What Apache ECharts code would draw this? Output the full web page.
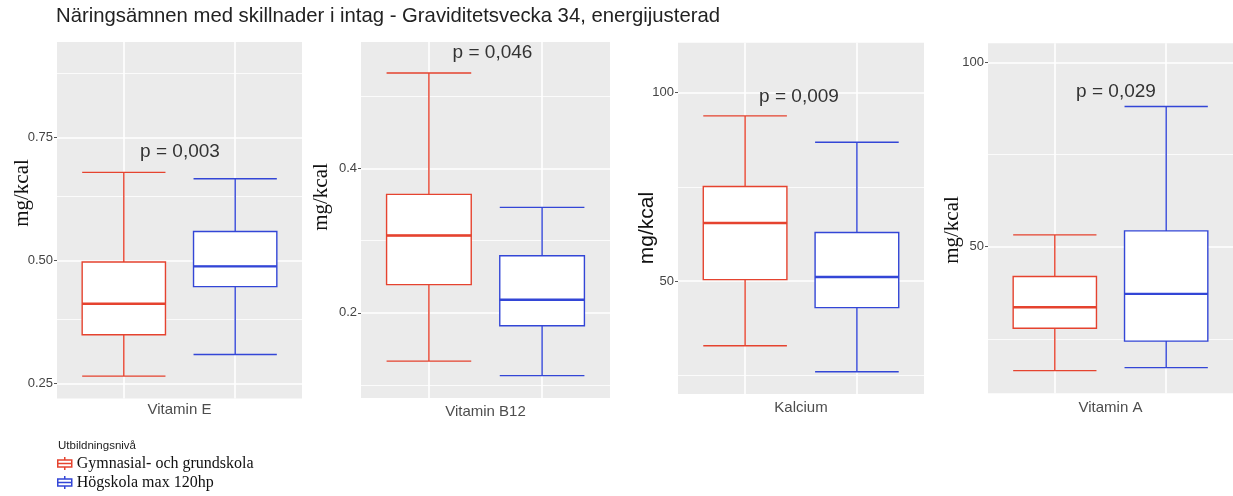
<!DOCTYPE html>
<html>
<head>
<meta charset="utf-8">
<script src="https://cdn.jsdelivr.net/npm/echarts@6/dist/echarts.min.js"></script>
<style>
html,body{margin:0;padding:0;background:#fff;}
#chart{width:1233px;height:496px;}
</style>
</head>
<body>
<div id="chart"></div>
<script>
// ---- data ----
const chartTitle = 'Näringsämnen med skillnader i intag - Graviditetsvecka 34, energijusterad';
const legendTitle = 'Utbildningsnivå';
const groups = ['Gymnasial- och grundskola', 'Högskola max 120hp'];
const nutrients = ['Vitamin E', 'Vitamin B12', 'Kalcium', 'Vitamin A'];
const pLabels = ['p = 0,003', 'p = 0,046', 'p = 0,009', 'p = 0,029'];
const yUnit = 'mg/kcal';
// [min, Q1, median, Q3, max]
const gymnasialStats = [
  [0.265, 0.349, 0.412, 0.497, 0.679],
  [0.133, 0.239, 0.307, 0.364, 0.532],
  [32.9, 50.4, 65.4, 75.1, 93.8],
  [16.4, 27.9, 33.6, 41.9, 53.2]
];
const hogskolaStats = [
  [0.309, 0.447, 0.488, 0.559, 0.666],
  [0.113, 0.182, 0.218, 0.279, 0.346],
  [26.0, 43.0, 51.1, 62.9, 86.8],
  [17.2, 24.4, 37.2, 54.3, 88.0]
];
const groupPositions = [1, 2];
const majorTicks = [[0.25, 0.5, 0.75], [0.2, 0.4], [50, 100], [50, 100]];
const minorTicks = [[0.375, 0.625, 0.875], [0.1, 0.3, 0.5], [25, 75], [25, 75]];
const tickDecimals = [2, 1, 0, 0];
const yRanges = [[0.2196, 0.944], [0.082, 0.575], [20.1, 113.2], [10.25, 105.15]];
const xRange = [0.4, 2.6];

// ---- layout / style ----
const colors = ['#e5432f', '#3346d6'];
const boxUnits = 0.75;
const panels = [
  {left: 57, top: 42, width: 245, height: 356.5, nameGap: 11.5, unitX: 22, unitY: 193, unitFont: 'Liberation Serif', pX: 180, pY: 152},
  {left: 361, top: 42, width: 249, height: 356, nameGap: 13.7, unitX: 321, unitY: 197, unitFont: 'Liberation Serif', pX: 492.5, pY: 53},
  {left: 678, top: 42.7, width: 246, height: 351.3, nameGap: 13.7, unitX: 647, unitY: 228, unitFont: 'Liberation Sans', pX: 799, pY: 96.7},
  {left: 988, top: 43.3, width: 245, height: 350, nameGap: 15, unitX: 952, unitY: 230, unitFont: 'Liberation Serif', pX: 1116, pY: 91.7}
];
const sans = 'Liberation Sans, Arial, sans-serif';

const grids = [], xAxes = [], yAxes = [], series = [], graphics = [];
panels.forEach((p, i) => {
  grids.push({left: p.left, top: p.top, width: p.width, height: p.height,
    show: true, backgroundColor: '#ebebeb', borderWidth: 0});
  for (let k = 0; k < 2; k++) {
    xAxes.push({
      type: 'value', gridIndex: i, min: xRange[0], max: xRange[1],
      show: k === 0,
      name: k === 0 ? nutrients[i] : '', nameLocation: 'middle', nameGap: p.nameGap,
      nameTextStyle: {fontFamily: sans, fontSize: 15, color: '#4d4d4d', verticalAlign: 'middle'},
      axisLine: {show: false}, axisTick: {show: false}, axisLabel: {show: false}, splitLine: {show: false}
    });
  }
  yAxes.push({
    type: 'value', gridIndex: i, min: yRanges[i][0], max: yRanges[i][1],
    axisLine: {show: false},
    axisTick: {show: true, length: 3, customValues: majorTicks[i], lineStyle: {color: '#555', width: 1}},
    axisLabel: {show: true, margin: 4, customValues: majorTicks[i], fontFamily: sans, fontSize: 13, color: '#444',
      formatter: v => Number(v).toFixed(tickDecimals[i])},
    splitLine: {show: false}
  });
  const gridLines = []
    .concat(majorTicks[i].map(v => ({yAxis: v, lineStyle: {color: '#fff', width: 1.6, type: 'solid'}})))
    .concat(minorTicks[i].map(v => ({yAxis: v, lineStyle: {color: '#fff', width: 0.8, type: 'solid'}})))
    .concat(groupPositions.map(v => ({xAxis: v, lineStyle: {color: '#fff', width: 1.6, type: 'solid'}})));
  [gymnasialStats, hogskolaStats].forEach((stats, g) => {
    const s = {
      type: 'boxplot', name: groups[g], xAxisIndex: i * 2 + g, yAxisIndex: i,
      boxWidth: ['34%', '34%'], z: 2,
      itemStyle: {color: '#fff', borderColor: colors[g], borderWidth: 1.4},
      emphasis: {disabled: true},
      data: [[groupPositions[g]].concat(stats[i])]
    };
    if (g === 0) {
      s.markLine = {silent: true, z: 1, symbol: ['none', 'none'], label: {show: false},
        emphasis: {disabled: true}, animation: false, data: gridLines};
    }
    series.push(s);
    // thicker median line, drawn through the axes
    series.push({
      type: 'custom', name: groups[g], xAxisIndex: i * 2 + g, yAxisIndex: i, z: 3, silent: true,
      data: [[groupPositions[g], stats[i][2]]],
      renderItem: (params, api) => {
        const c = api.coord([api.value(0), api.value(1)]);
        const w = api.size([boxUnits, 0])[0];
        return {type: 'line', shape: {x1: c[0] - w / 2, y1: c[1], x2: c[0] + w / 2, y2: c[1]},
          style: {stroke: colors[g], lineWidth: 2.4}};
      }
    });
  });
  graphics.push({type: 'text', x: p.unitX, y: p.unitY, rotation: Math.PI / 2, z: 100,
    style: {text: yUnit, font: '21px ' + p.unitFont, fill: '#111', align: 'center', verticalAlign: 'middle'}});
  graphics.push({type: 'text', x: p.pX, y: p.pY, z: 100,
    style: {text: pLabels[i], font: '19px ' + sans, fill: '#333', align: 'center', verticalAlign: 'middle'}});
});
graphics.push({type: 'text', x: 58, y: 446, z: 100,
  style: {text: legendTitle, font: '11.5px ' + sans, fill: '#222', align: 'left', verticalAlign: 'middle'}});

const icon = 'path://M0,3H14V10H0Z M0,6.5H14 M7,0V3 M7,10V13';
const option = {
  animation: false,
  backgroundColor: '#fff',
  title: {text: chartTitle, left: 56, top: 6, padding: 0,
    textStyle: {fontFamily: sans, fontSize: 20.3, fontWeight: 'normal', color: '#222'}},
  legend: {left: 57, top: 454, orient: 'vertical', padding: 0, itemGap: 0, itemWidth: 14, itemHeight: 13,
    selectedMode: false,
    textStyle: {fontFamily: 'Liberation Serif', fontSize: 16, color: '#111', lineHeight: 19},
    data: groups.map((g, i) => ({name: g, icon: icon,
      itemStyle: {color: '#fff', borderColor: colors[i], borderWidth: 1.5}}))},
  grid: grids, xAxis: xAxes, yAxis: yAxes, series: series, graphic: graphics
};
const chart = echarts.init(document.getElementById('chart'), null, {renderer: 'canvas'});
chart.setOption(option);
</script>
</body>
</html>
